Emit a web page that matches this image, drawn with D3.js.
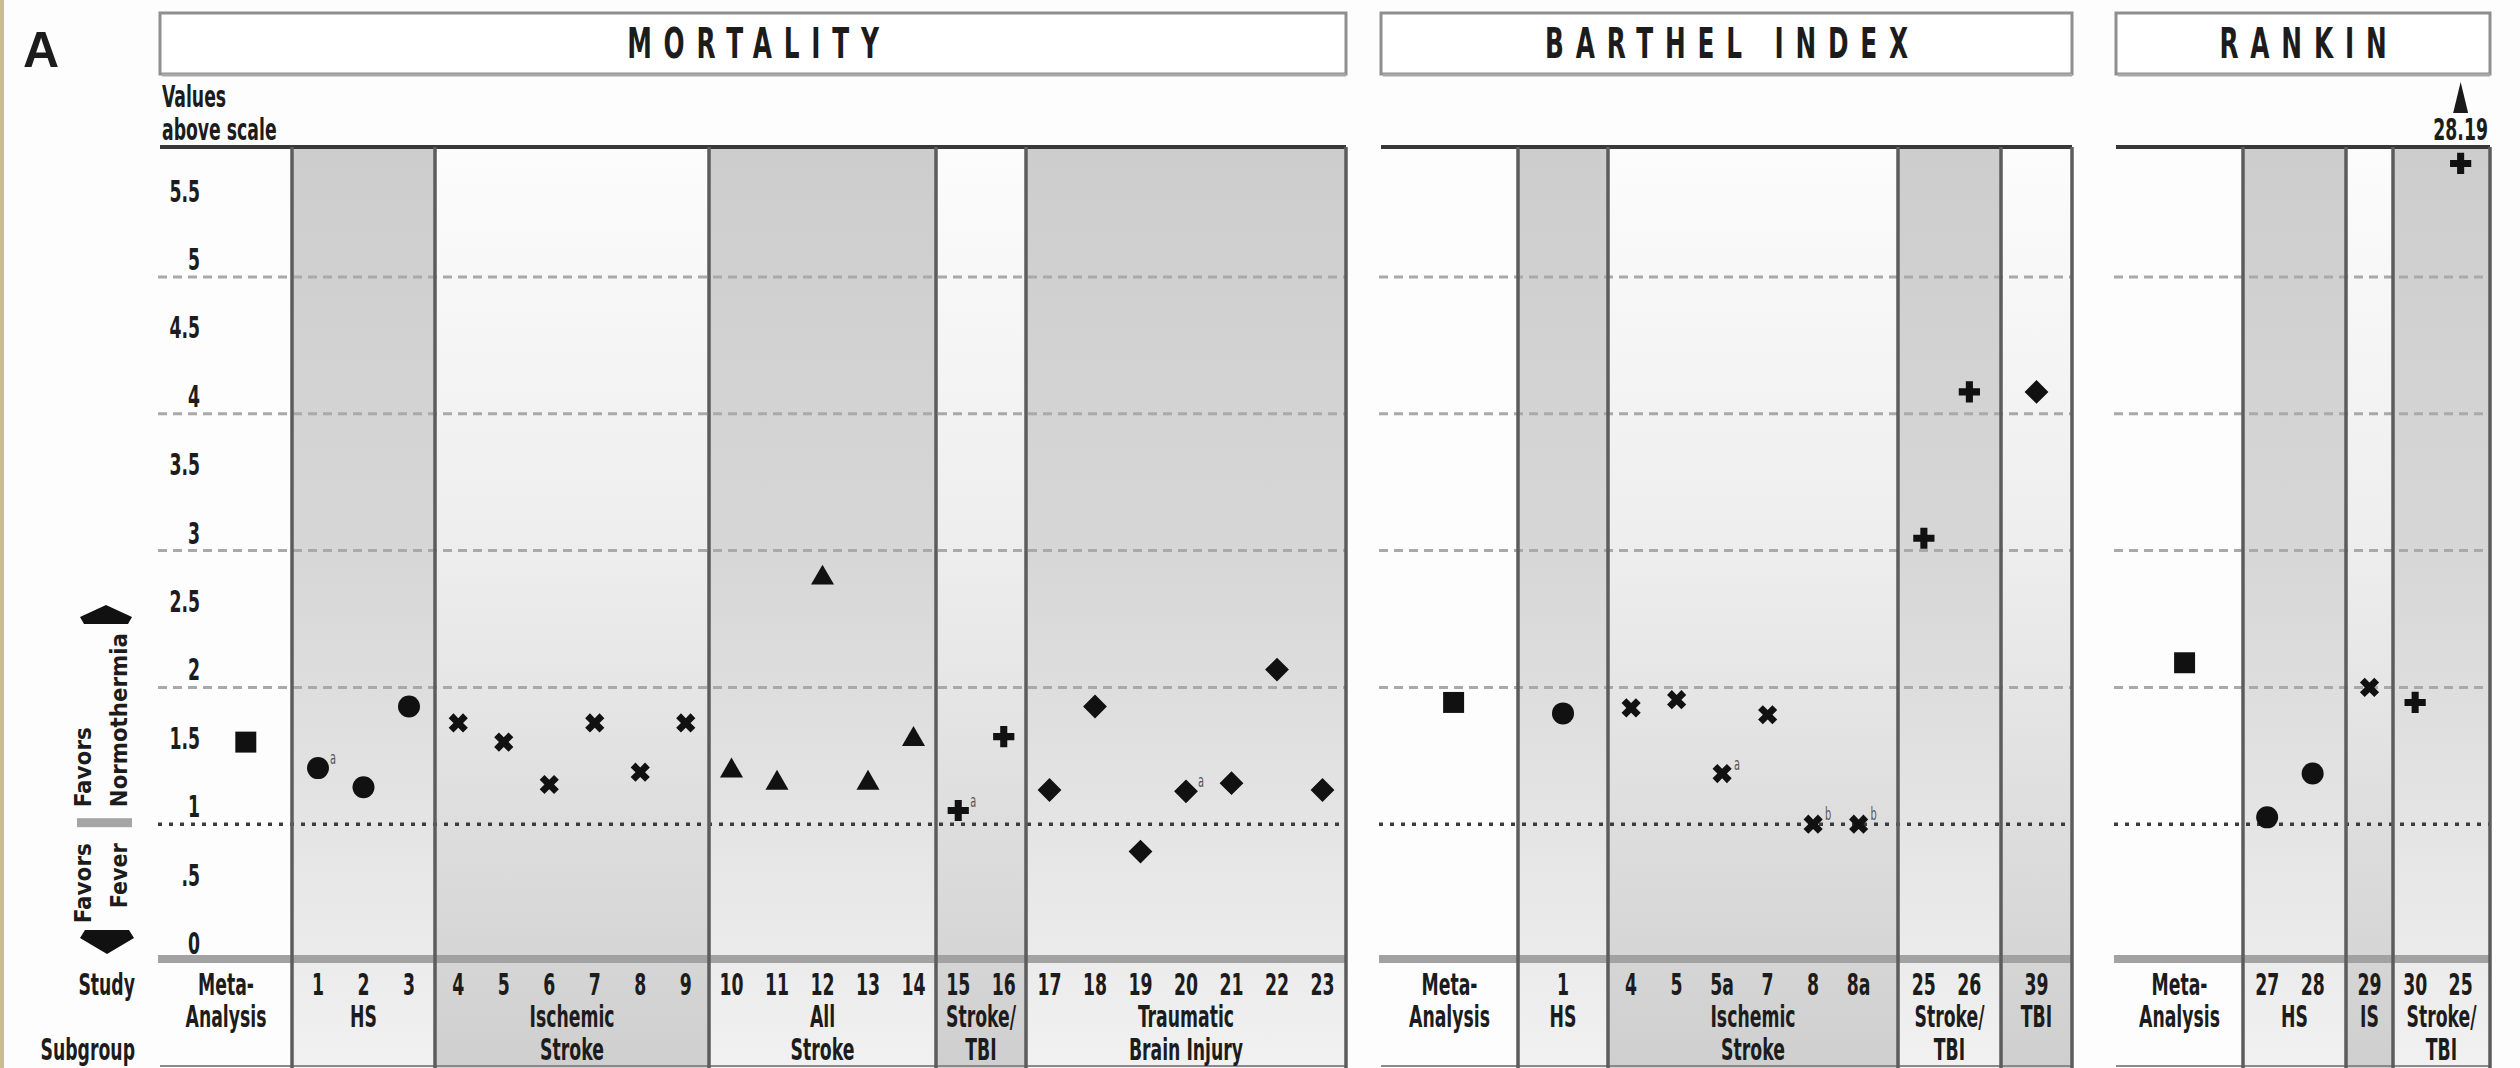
<!DOCTYPE html>
<html>
<head>
<meta charset="utf-8">
<script src="https://cdn.jsdelivr.net/npm/d3@7"></script>
<style>
  html, body { margin: 0; padding: 0; background: #fdfdfd; }
  svg { display: block; }
  text {
    font-family: "Liberation Sans Narrow", "Arial Narrow", "DejaVu Sans Condensed", sans-serif;
    font-weight: bold;
    fill: #1c1c1c;
  }
</style>
</head>
<body>
<svg id="chart" width="2520" height="1068"></svg>
<script>
// ---- data (odds ratios) ----
const panelTitles = ['MORTALITY', 'BARTHEL INDEX', 'RANKIN'];
const metaValues = [1.60, 1.89, 2.18];

const mortalityGroups = [['HS'], ['Ischemic', 'Stroke'], ['All', 'Stroke'], ['Stroke/', 'TBI'], ['Traumatic', 'Brain Injury']];
const mortalityKinds = ['HS', 'IS', 'AS', 'ST', 'TBI'];
const mortalityStudies = [
  ['1', '2', '3'],
  ['4', '5', '6', '7', '8', '9'],
  ['10', '11', '12', '13', '14'],
  ['15', '16'],
  ['17', '18', '19', '20', '21', '22', '23']
];
const mortalityValues = [
  [1.41, 1.27, 1.86],
  [1.74, 1.60, 1.29, 1.74, 1.38, 1.74],
  [1.39, 1.30, 2.80, 1.30, 1.62],
  [1.10, 1.64],
  [1.25, 1.86, 0.80, 1.24, 1.30, 2.13, 1.25]
];
const mortalityNotes = [['1', 'a'], ['15', 'a'], ['20', 'a']];

const barthelGroups = [['HS'], ['Ischemic', 'Stroke'], ['Stroke/', 'TBI'], ['TBI']];
const barthelKinds = ['HS', 'IS', 'ST', 'TBI'];
const barthelStudies = [['1'], ['4', '5', '5a', '7', '8', '8a'], ['25', '26'], ['39']];
const barthelValues = [[1.81], [1.85, 1.91, 1.37, 1.80, 1.0, 1.0], [3.09, 4.16], [4.16]];
const barthelNotes = [['5a', 'a'], ['8', 'b'], ['8a', 'b']];

const rankinGroups = [['HS'], ['IS'], ['Stroke/', 'TBI']];
const rankinKinds = ['HS', 'IS', 'ST'];
const rankinStudies = [['27', '28'], ['29'], ['30', '25']];
const rankinValues = [[1.05, 1.37], [2.0], [1.89, 28.19]];
const rankinNotes = [];

const yTicks = [0, 0.5, 1, 1.5, 2, 2.5, 3, 3.5, 4, 4.5, 5, 5.5];
const yTickLabels = ['0', '.5', '1', '1.5', '2', '2.5', '3', '3.5', '4', '4.5', '5', '5.5'];
const dashedLines = [2, 3, 4, 5];
const noEffect = 1;

// ---- layout ----
const W = 2520, H = 1068;
const yTop = 147, yBase = 961, yMax = 5.95, capValue = 5.83;
const slot = 45.5;
const squeeze = 0.64; // the original uses a very condensed face
const layout = [
  { x0: 160, metaW: 132, metaPos: 0.65, widths: [143, 274, 227, 90, 320], aligns: [0.5, 0.5, 0.5, 0.5, 0.5] },
  { x0: 1381, metaW: 137, metaPos: 0.53, widths: [90, 290, 103, 71], aligns: [0.5, 0.37, 0.45, 0.5] },
  { x0: 2116, metaW: 127, metaPos: 0.54, widths: [103, 47, 97], aligns: [0.42, 0.5, 0.43] }
];
const rowStudy = 995, rowGroup1 = 1027, rowGroup2 = 1060;

const panels = [
  { groups: mortalityGroups, kinds: mortalityKinds, studies: mortalityStudies, values: mortalityValues, notes: mortalityNotes },
  { groups: barthelGroups, kinds: barthelKinds, studies: barthelStudies, values: barthelValues, notes: barthelNotes },
  { groups: rankinGroups, kinds: rankinKinds, studies: rankinStudies, values: rankinValues, notes: rankinNotes }
];

const svg = d3.select('#chart');
const defs = svg.append('defs');

function gradient(id, stops) {
  const g = defs.append('linearGradient').attr('id', id)
    .attr('x1', 0).attr('y1', 0).attr('x2', 0).attr('y2', 1);
  stops.forEach(([o, c]) => g.append('stop').attr('offset', o).attr('stop-color', c));
}
gradient('bandDark', [[0, '#cdcdcd'], [0.45, '#d7d7d7'], [1, '#f1f1f1']]);
gradient('bandLight', [[0, '#fcfcfc'], [0.45, '#ededed'], [1, '#cfcfcf']]);

const y = d3.scaleLinear().domain([0, yMax]).range([yBase, yTop]);

// gem shaped marker for TBI studies
const symbolGem = {
  draw(ctx, size) {
    const r = Math.sqrt(size) * 0.7, c = r * 0.7;
    ctx.moveTo(0, -r); ctx.lineTo(r, 0); ctx.lineTo(0, r); ctx.lineTo(-r, 0); ctx.closePath();
    ctx.moveTo(c, 0); ctx.arc(0, 0, c, 0, 2 * Math.PI);
  }
};
const kindSymbol = { meta: d3.symbolSquare, HS: d3.symbolCircle, IS: d3.symbolCross, AS: d3.symbolTriangle, ST: d3.symbolCross, TBI: symbolGem };
const kindSize = { meta: 440, HS: 380, IS: 230, AS: 230, ST: 250, TBI: 290 };
const kindRotate = { IS: 45 };

// background and tan strip on the left
svg.append('rect').attr('width', W).attr('height', H).attr('fill', '#fdfdfd');
svg.append('rect').attr('x', 0).attr('width', 4).attr('height', H).attr('fill', '#cbbd8f');

svg.append('text').attr('class', 'plain').attr('x', 23).attr('y', 67)
  .style('font-family', '"Liberation Sans", Arial, sans-serif')
  .style('font-size', '50px')
  .text('A');

panels.forEach((p, pi) => {
  const L = layout[pi];
  const edges = [L.x0 + L.metaW];
  L.widths.forEach(w => edges.push(edges[edges.length - 1] + w));
  const x1 = edges[edges.length - 1];
  const g = svg.append('g');

  // alternating gradient bands
  g.selectAll('rect.band')
    .data(p.groups)
    .enter().append('rect')
    .attr('class', 'band')
    .attr('x', (d, i) => edges[i])
    .attr('y', yTop)
    .attr('width', (d, i) => edges[i + 1] - edges[i])
    .attr('height', H - yTop)
    .attr('fill', (d, i) => i % 2 === 0 ? 'url(#bandDark)' : 'url(#bandLight)');

  // gridlines
  g.selectAll('line.dash')
    .data(dashedLines)
    .enter().append('line')
    .attr('x1', L.x0 - 2).attr('x2', x1)
    .attr('y1', d => y(d)).attr('y2', d => y(d))
    .attr('stroke', '#a9a9a9').attr('stroke-width', 3)
    .attr('stroke-dasharray', '9,6');
  g.append('line')
    .attr('x1', L.x0 - 2).attr('x2', x1)
    .attr('y1', y(noEffect)).attr('y2', y(noEffect))
    .attr('stroke', '#3c3c3c').attr('stroke-width', 3.5)
    .attr('stroke-dasharray', '4,7');

  // bottom axis bar, top rule, bottom rule
  g.append('line').attr('x1', L.x0 - 2).attr('x2', x1)
    .attr('y1', yBase - 2).attr('y2', yBase - 2)
    .attr('stroke', '#a2a2a2').attr('stroke-width', 8);
  g.append('line').attr('x1', L.x0).attr('x2', x1)
    .attr('y1', yTop).attr('y2', yTop)
    .attr('stroke', '#383838').attr('stroke-width', 4);
  g.append('line').attr('x1', L.x0).attr('x2', x1)
    .attr('y1', H - 2).attr('y2', H - 2)
    .attr('stroke', '#8a8a8a').attr('stroke-width', 2);

  // band separators
  g.selectAll('line.sep')
    .data(edges)
    .enter().append('line')
    .attr('x1', d => d).attr('x2', d => d)
    .attr('y1', yTop).attr('y2', H)
    .attr('stroke', '#5c5c5c').attr('stroke-width', 3.5);

  // meta-analysis column
  const metaX = L.x0 + L.metaW * L.metaPos;
  g.append('path')
    .attr('d', d3.symbol().type(kindSymbol.meta).size(kindSize.meta)())
    .attr('transform', `translate(${metaX},${y(metaValues[pi])})`)
    .attr('fill', '#111');
  g.append('text').attr('x', L.x0 + L.metaW / 2).attr('y', rowStudy)
    .attr('text-anchor', 'middle').style('font-size', '30px').text('Meta-');
  g.append('text').attr('x', L.x0 + L.metaW / 2).attr('y', rowGroup1)
    .attr('text-anchor', 'middle').style('font-size', '30px').text('Analysis');

  // studies
  const notes = new Map(p.notes);
  p.groups.forEach((lines, gi) => {
    const n = p.studies[gi].length;
    const w = edges[gi + 1] - edges[gi];
    const pad = Math.max(0, (w / slot - (n - 1)) / 2);
    const x = d3.scalePoint()
      .domain(p.studies[gi])
      .range([edges[gi], edges[gi + 1]])
      .padding(pad)
      .align(L.aligns[gi]);
    const kind = p.kinds[gi];
    const pts = p.studies[gi].map((s, i) => ({ study: s, value: p.values[gi][i] }));
    const sym = d3.symbol().type(kindSymbol[kind]).size(kindSize[kind]);

    g.selectAll(null)
      .data(pts)
      .enter().append('path')
      .attr('d', sym)
      .attr('transform', d => `translate(${x(d.study)},${y(Math.min(d.value, capValue))}) rotate(${kindRotate[kind] || 0})`)
      .attr('fill', '#111');

    // footnote letters
    g.selectAll(null)
      .data(pts.filter(d => notes.has(d.study)))
      .enter().append('text')
      .attr('x', d => x(d.study) + 12)
      .attr('y', d => y(d.value) - 4)
      .style('font-size', '17px').style('font-weight', 'normal').style('fill', '#555')
      .text(d => notes.get(d.study));

    // values above scale
    const above = pts.filter(d => d.value > yMax);
    g.selectAll(null)
      .data(above)
      .enter().append('path')
      .attr('d', d => {
        const cx = x(d.study);
        return `M${cx},${yTop - 65} L${cx + 7.5},${yTop - 34} L${cx - 7.5},${yTop - 34} Z`;
      })
      .attr('fill', '#1a1a1a');
    g.selectAll(null)
      .data(above)
      .enter().append('text')
      .attr('x', d => x(d.study))
      .attr('y', yTop - 7)
      .attr('text-anchor', 'middle')
      .style('font-size', '30px')
      .text(d => d3.format('.2f')(d.value));

    // study numbers
    g.selectAll(null)
      .data(pts)
      .enter().append('text')
      .attr('x', d => x(d.study))
      .attr('y', rowStudy)
      .attr('text-anchor', 'middle')
      .style('font-size', '30px')
      .text(d => d.study);

    // subgroup label
    const cx = (edges[gi] + edges[gi + 1]) / 2;
    lines.forEach((t, li) => {
      g.append('text')
        .attr('x', cx)
        .attr('y', li === 0 ? rowGroup1 : rowGroup2)
        .attr('text-anchor', 'middle')
        .style('font-size', '30px')
        .text(t);
    });
  });

  // header box
  const hb = svg.append('g');
  hb.append('rect')
    .attr('x', L.x0).attr('y', 13)
    .attr('width', x1 - L.x0).attr('height', 61)
    .attr('fill', '#ffffff')
    .attr('stroke', '#8f8f8f').attr('stroke-width', 3);
  hb.append('line')
    .attr('x1', L.x0 + 2).attr('x2', x1)
    .attr('y1', 75).attr('y2', 75)
    .attr('stroke', '#a8a8a8').attr('stroke-width', 3);
  hb.append('text')
    .attr('x', (L.x0 + x1) / 2 + 6).attr('y', 58)
    .attr('text-anchor', 'middle')
    .style('font-size', '43px')
    .style('letter-spacing', '18.5px')
    .text(panelTitles[pi]);
});

// y axis labels on the mortality panel
svg.append('g')
  .selectAll('text')
  .data(yTicks)
  .enter().append('text')
  .attr('x', 200)
  .attr('y', d => y(d) - 7)
  .attr('text-anchor', 'end')
  .style('font-size', '30px')
  .text((d, i) => yTickLabels[i]);

svg.append('text').attr('x', 162).attr('y', 107).style('font-size', '30px').text('Values');
svg.append('text').attr('x', 162).attr('y', 140).style('font-size', '30px').text('above scale');

svg.append('text').attr('x', 135).attr('y', rowStudy).attr('text-anchor', 'end').style('font-size', '30px').text('Study');
svg.append('text').attr('x', 135).attr('y', rowGroup2).attr('text-anchor', 'end').style('font-size', '30px').text('Subgroup');

// direction legend
const leg = svg.append('g');
const yUp = y(2.5), yDown = y(0), yMid = y(noEffect);
leg.append('path')
  .attr('d', `M80,${yUp - 2} L106,${yUp - 14} L132,${yUp - 2} L128,${yUp + 5} L84,${yUp + 5} Z`)
  .attr('fill', '#111');
leg.append('path')
  .attr('d', `M85,${yDown - 31} L129,${yDown - 31} L134,${yDown - 23} L107,${yDown - 7} L80,${yDown - 23} Z`)
  .attr('fill', '#111');
leg.append('rect').attr('x', 77).attr('y', yMid - 6).attr('width', 55).attr('height', 9).attr('fill', '#a5a5a5');

function rotText(tx, ty, anchor, txt, len) {
  leg.append('text')
    .attr('class', 'rot')
    .attr('transform', `translate(${tx},${ty}) rotate(-90)`)
    .attr('text-anchor', anchor)
    .attr('textLength', len).attr('lengthAdjust', 'spacingAndGlyphs')
    .style('font-size', '23px')
    .text(txt);
}
rotText(91, yMid - 17, 'start', 'Favors', 80);
rotText(127, yMid - 17, 'start', 'Normothermia', 174);
rotText(91, yMid + 19, 'end', 'Favors', 80);
rotText(127, yMid + 19, 'end', 'Fever', 65);

// squeeze the label texts horizontally around their anchor points
svg.selectAll('text:not(.plain):not(.rot)').each(function () {
  const t = d3.select(this);
  const tx = +t.attr('x'), ty = +t.attr('y');
  t.attr('transform', `translate(${tx},${ty}) scale(${squeeze},1) translate(${-tx},${-ty})`);
});
</script>
</body>
</html>
